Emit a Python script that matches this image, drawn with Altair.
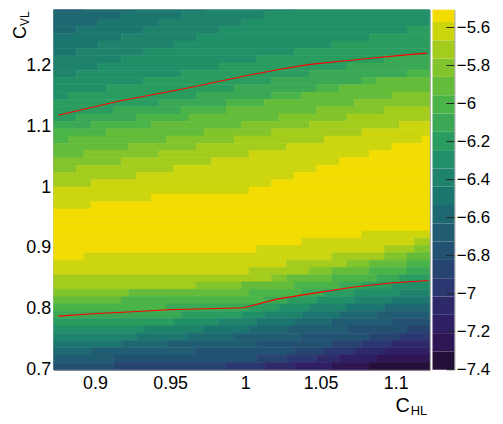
import altair as alt
import pandas as pd

# ---------------- values ----------------
X_RANGE = [0.8725, 1.1225]   # C_HL : 50 bins of 0.005
Y_RANGE = [0.7, 1.3]         # C_VL : 50 bins of 0.012
N_X, N_Y = 50, 50
Z_RANGE = [-7.4, -5.475]     # colour axis, 20 contour levels
N_LEV = 20

# Rows are counted from the top (0) to the bottom (49); columns from the left (0..49).
# Upper side of the ridge: level L -> (last row with level <= L in column 0,
#                                      columns at which that row moves up by one)
upper_edges = {
    18: (27, [5, 13, 26, 29, 32, 35, 38, 42, 45, 49]),
    17: (24, [5, 11, 16, 21, 26, 31, 36, 41, 46]),
    16: (22, [3, 9, 14, 19, 24, 29, 34, 39, 44]),
    15: (20, [4, 10, 15, 20, 25, 30, 35, 40, 45]),
    14: (18, [2, 7, 13, 18, 23, 28, 33, 38, 43]),
    13: (16, [5, 11, 17, 23, 29, 35, 41, 47]),
    12: (15, [3, 8, 14, 19, 24, 29, 34, 39, 44]),
    11: (12, [2, 7, 12, 17, 22, 27, 32, 37, 42, 47]),
    10: (9, [3, 6, 9, 12, 16, 19, 22, 25, 28, 32]),
    9: (6, [3, 6, 9, 12, 14, 17, 20]),
    8: (3, [3, 6, 9, 11]),
    7: (0, [4]),
}
# Lower side of the ridge: level L -> (first row with level <= L in column 0,
#                                      columns at which that row moves up by one)
lower_edges = {
    18: (35, [4, 27, 33, 41]),
    17: (37, [26, 31, 37, 44, 48]),
    16: (39, [19, 29, 34, 39, 44, 48]),
    15: (40, [10, 25, 31, 37, 42, 47]),
    14: (41, [9, 26, 32, 37, 42, 47]),
    13: (42, [15, 28, 33, 38, 43, 47]),
    12: (43, [17, 26, 31, 36, 41, 46]),
    11: (44, [16, 25, 30, 35, 40, 45]),
    10: (45, [12, 22, 28, 34, 40, 46]),
    9: (46, [11, 20, 27, 33, 39, 45]),
    8: (47, [9, 18, 26, 32, 38, 44]),
    7: (48, [5, 15, 24, 31, 37, 43]),
    6: (49, [8, 19, 27, 33, 39, 45]),
    5: (50, [8, 27, 32, 37, 42, 47]),
    4: (50, [23, 31, 36, 41, 46]),
    3: (50, [28, 35, 40, 45]),
    2: (50, [32, 38, 44]),
    1: (50, [37, 43]),
    0: (50, [42]),
}

# red contour lines
contour_upper_x = [0.8755, 0.9162, 0.9601, 0.9988, 1.0195, 1.0415, 1.0635, 1.0854, 1.1030, 1.1207]
contour_upper_y = [1.118, 1.1413, 1.162, 1.1821, 1.1919, 1.2012, 1.2066, 1.212, 1.2164, 1.2201]
contour_lower_x = [0.8755, 0.8986, 0.9249, 0.9491, 0.9733, 0.9988, 1.0217, 1.0470, 1.0722, 1.0964, 1.1217]
contour_lower_y = [0.788, 0.7919, 0.7952, 0.7985, 0.8001, 0.8017, 0.8164, 0.8262, 0.8359, 0.8425, 0.8467]

x_ticks = [0.9, 0.95, 1.0, 1.05, 1.1]
y_ticks = [0.7, 0.8, 0.9, 1.0, 1.1, 1.2]
z_ticks = [-7.4, -7.2, -7.0, -6.8, -6.6, -6.4, -6.2, -6.0, -5.8, -5.6]

# ---------------- style: ROOT kViridis palette ----------------
STOP_POS = [0.0, 0.125, 0.25, 0.375, 0.5, 0.625, 0.75, 0.875, 1.0]
STOP_R = [26, 51, 43, 33, 28, 35, 74, 144, 246]
STOP_G = [9, 24, 55, 87, 118, 150, 180, 200, 222]
STOP_B = [30, 96, 112, 114, 112, 101, 72, 35, 0]


def root_palette(n=255):
    cols = []
    for g in range(len(STOP_POS) - 1):
        ng = int(n * STOP_POS[g + 1]) - int(n * STOP_POS[g])
        for k in range(ng):
            f = k / ng
            cols.append(tuple(
                s[g] + f * (s[g + 1] - s[g]) for s in (STOP_R, STOP_G, STOP_B)))
    return cols


pal = root_palette()
level_colors = []
for i in range(N_LEV):
    r, g, b = pal[int((i + 0.99) * len(pal) / N_LEV)]
    level_colors.append("#%02x%02x%02x" % (round(r), round(g), round(b)))

# ---------------- build tables ----------------
dx = (X_RANGE[1] - X_RANGE[0]) / N_X
dy = (Y_RANGE[1] - Y_RANGE[0]) / N_Y
dz = (Z_RANGE[1] - Z_RANGE[0]) / N_LEV


def edge_row(edge, c):
    start, steps = edge
    return start - sum(1 for s in steps if s <= c)


cells = []
for t in range(N_Y):
    levels = []
    for c in range(N_X):
        lev = N_LEV - 1
        lev -= sum(1 for e in lower_edges.values() if edge_row(e, c) <= t)
        lev -= sum(1 for e in upper_edges.values() if edge_row(e, c) >= t)
        levels.append(max(lev, 0))
    c0 = 0
    for c in range(1, N_X + 1):
        if c == N_X or levels[c] != levels[c0]:
            cells.append(dict(x0=X_RANGE[0] + c0 * dx, x1=X_RANGE[0] + c * dx,
                              y0=Y_RANGE[1] - (t + 1) * dy, y1=Y_RANGE[1] - t * dy,
                              level=levels[c0]))
            c0 = c
cells_df = pd.DataFrame(cells)

cont_rows = []
for name, xs_, ys_ in (("upper", contour_upper_x, contour_upper_y),
                       ("lower", contour_lower_x, contour_lower_y)):
    for i, (xv, yv) in enumerate(zip(xs_, ys_)):
        cont_rows.append(dict(line=name, i=i, x=xv, y=yv))
cont_df = pd.DataFrame(cont_rows)

cbar_df = pd.DataFrame(dict(level=list(range(N_LEV)),
                            z0=[Z_RANGE[0] + i * dz for i in range(N_LEV)],
                            z1=[Z_RANGE[0] + (i + 1) * dz for i in range(N_LEV)]))
ztick_df = pd.DataFrame(dict(v=z_ticks))

# ---------------- layout ----------------
W, H = 379, 363
Y_VIEW_TOP = 1.2914      # top few pixels of the frame fall above the page margin
Z_VIEW_TOP = -5.5065
FONT = "Liberation Sans"

xs = alt.Scale(domain=X_RANGE, nice=False, zero=False)
ys = alt.Scale(domain=[Y_RANGE[0], Y_VIEW_TOP], nice=False, zero=False, clamp=True)
zs = alt.Scale(domain=[Z_RANGE[0], Z_VIEW_TOP], nice=False, zero=False, clamp=True)
cs = alt.Scale(domain=list(range(N_LEV)), range=level_colors)

x_axis = alt.Axis(values=x_ticks, format="~g", title=None, tickSize=0, labelPadding=5,
                  domain=False, grid=False, labelFontSize=18, labelFont=FONT,
                  labelColor="black", labelFlush=False)
y_axis = alt.Axis(values=y_ticks, format="~g", title=None, tickSize=0, labelPadding=3,
                  domain=False, grid=False, labelFontSize=18, labelFont=FONT,
                  labelColor="black", labelFlush=False)
z_axis = alt.Axis(orient="right", offset=25, values=z_ticks, format="~g", title=None,
                  tickSize=0, labelPadding=2, domain=True, domainColor="#888888",
                  grid=False, labelFontSize=17, labelFont=FONT, labelColor="black",
                  labelFlush=False)

heat = alt.Chart(cells_df).mark_rect(strokeWidth=0.6).encode(
    x=alt.X("x0:Q", scale=xs, axis=x_axis), x2="x1",
    y=alt.Y("y0:Q", scale=ys, axis=y_axis), y2="y1",
    color=alt.Color("level:O", scale=cs, legend=None),
    stroke=alt.Stroke("level:O", scale=cs, legend=None),
)
cont = alt.Chart(cont_df).mark_line(color="#ff0000", strokeWidth=1.1).encode(
    x=alt.X("x:Q", scale=xs, axis=x_axis),
    y=alt.Y("y:Q", scale=ys, axis=y_axis),
    detail="line:N", order="i:Q",
)
cbar = alt.Chart(cbar_df).mark_rect().encode(
    x=alt.value(W + 3), x2=alt.value(W + 25),
    y=alt.Y("z0:Q", scale=zs, axis=z_axis), y2="z1",
    color=alt.Color("level:O", scale=cs, legend=None),
)
cticks = alt.Chart(ztick_df).mark_rule(color="#222222", strokeWidth=1).encode(
    x=alt.value(W + 17), x2=alt.value(W + 25),
    y=alt.Y("v:Q", scale=zs, axis=z_axis),
)

one = pd.DataFrame({"a": [0]})
titles = [
    alt.Chart(one).mark_text(text="C", font=FONT, fontSize=20, align="center",
                             baseline="alphabetic", color="black").encode(
        x=alt.value(352), y=alt.value(406)),
    alt.Chart(one).mark_text(text="HL", font=FONT, fontSize=13, align="left",
                             baseline="alphabetic", color="black").encode(
        x=alt.value(360), y=alt.value(409)),
    alt.Chart(one).mark_text(text="C", font=FONT, fontSize=18, align="center",
                             baseline="alphabetic", angle=270, color="black").encode(
        x=alt.value(-28), y=alt.value(23)),
    alt.Chart(one).mark_text(text="VL", font=FONT, fontSize=12, align="center",
                             baseline="alphabetic", angle=270, color="black").encode(
        x=alt.value(-25), y=alt.value(9)),
]

chart = alt.layer(
    alt.layer(heat, cont),
    alt.layer(cbar, cticks),
    *titles,
).resolve_scale(y="independent").properties(
    width=W, height=H,
    autosize=alt.AutoSizeParams(type="none"),
    padding={"left": 46, "top": 0, "right": 66, "bottom": 52},
).configure_view(stroke="#666666", strokeWidth=1)

chart.save("out.html", embed_options={"renderer": "svg", "actions": False})
